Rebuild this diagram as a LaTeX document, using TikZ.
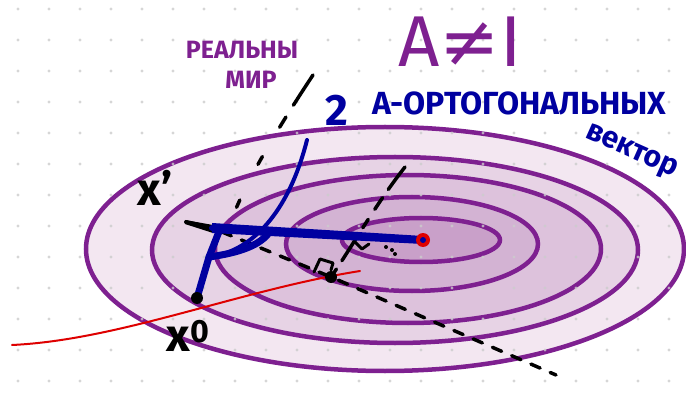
\documentclass[tikz,border=0pt]{standalone}
\usepackage{fontspec}
\setmainfont{Fira Sans}
\newfontfamily\symfont{DejaVu Sans}
\usepackage{xcolor}
\usetikzlibrary{calc}

\definecolor{lilac}{RGB}{126,32,144}
\definecolor{ink}{RGB}{0,0,160}
\definecolor{redpen}{RGB}{222,0,0}
\definecolor{ringA}{RGB}{243,231,241}
\definecolor{ringB}{RGB}{231,211,229}
\definecolor{ringC}{RGB}{221,194,220}
\definecolor{ringD}{RGB}{211,179,211}
\definecolor{ringE}{RGB}{201,160,201}

\begin{document}
\begin{tikzpicture}[x=1pt, y=-1pt,
    ring/.style={draw=lilac, line width=4.5pt},
    pen/.style={ink, line width=7pt, line cap=round, line join=round},
    marker/.style={black, line width=4pt, line cap=round, line join=round},
    dashpen/.style={black, line width=3.5pt, line cap=round, dash pattern=on 10pt off 11pt},
    lbl/.style={inner sep=0pt, font=\bfseries}]
    % 0. Холст и сетка
    \useasboundingbox (0,0) rectangle (686,393);
    \clip (0,0) rectangle (686,393);
    \fill[white] (0,0) rectangle (686,393);

    % 1. Линии уровня (эллипсы)
    \draw[ring, fill=ringA] (385,249) ellipse [x radius=299, y radius=122];
    \draw[ring, fill=ringB] (395,250) ellipse [x radius=243, y radius=93];
    \draw[ring, fill=ringC] (408,249) ellipse [x radius=193, y radius=74];
    \draw[ring, fill=ringD] (412,244) ellipse [x radius=126, y radius=47];
    \draw[ring, fill=ringE] (421,240) ellipse [x radius=79, y radius=22];

    % точки сетки
    \foreach \i in {0,...,21}
        \foreach \j in {0,...,12}
            \fill[gray!40, opacity=0.8] ({18+31*\i},{9+31*\j}) circle (1.6pt);

    % 2. Точки
    \coordinate (xmin) at (423,240);
    \coordinate (xzero) at (197,298);
    \coordinate (xone) at (212,228);
    \coordinate (bend) at (209,257);
    \coordinate (mid) at (331,277);

    % 3. Красная кривая
    \draw[redpen, line width=2pt, line cap=round]
        (12,345) .. controls (120,340) and (240,290) .. (360,271);

    % 4. Пунктирные линии
    \draw[dashpen] (222,232) -- (mid) -- (556,375);
    \draw[dashpen, dash pattern=on 28pt off 10pt on 14pt off 12pt on 10pt off 11pt]
        (405,167) .. controls (375,205) and (350,250) .. (mid);
    \draw[dashpen, dash pattern=on 36pt off 14pt on 12pt off 34pt on 9pt off 40pt on 8pt off 40pt]
        (313,75) .. controls (270,140) and (235,200) .. (225,240);

    % прямые углы
    \draw[marker, line width=3pt] (314,272) -- (320,259) -- (333,263) -- (331,270);
    \draw[marker, line width=3pt] (354,241) -- (362,249) -- (369,244);
    \fill (386,247) circle (2pt) (392,250) circle (2pt) (395,254) circle (2pt);

    % 5. Синие направления
    \fill (185,220) -- (213,225) -- (213,233) -- (185,224) -- cycle;
    \draw[marker, line width=4pt] (186,222) -- (xone);
    \draw[pen, line width=4pt] (bend) .. controls (250,252) and (288,215) .. (307,140);
    \fill[ink] (212,223) -- (423,236) -- (423,244) -- (212,233) -- cycle;
    \draw[pen, line width=6pt] (xone) -- (xmin);
    \draw[pen] (xzero) -- (bend) -- (220,229);
    \draw[pen] (bend) .. controls (238,253) and (258,246) .. (268,234);

    % 6. Маркеры точек
    \fill[redpen] (xmin) circle (7pt);
    \fill[ink] (xmin) circle (3pt);
    \fill (mid) circle (6pt);
    \fill (xzero) circle (6pt);

    % 7. Подписи
    \node[lbl, text=lilac, font=\fontsize{72}{72}\selectfont] (aneq) at (460,42) {A{\symfont ≠}I};
    \node[lbl, text=lilac, font=\bfseries\fontsize{25}{25}\selectfont] (real) at (242,50) {РЕАЛЬНЫ};
    \node[lbl, text=lilac, font=\bfseries\fontsize{25}{25}\selectfont] (world) at (251,80) {МИР};
    \node[lbl, text=ink, font=\bfseries\fontsize{44}{44}\selectfont] (two) at (337,110) {2};
    \node[lbl, text=ink, font=\bfseries\fontsize{32}{32}\selectfont, anchor=west] (orth) at (372,103) {А-ОРТОГОНАЛЬНЫХ};
    \node[lbl, text=ink, font=\bfseries\fontsize{30}{30}\selectfont, anchor=north west, rotate=-24] (vec) at (591,122) {вектор};
    \node[lbl, font=\bfseries\fontsize{46}{46}\selectfont] (xonelbl) at (155,188) {x'};
    \node[lbl, font=\bfseries\fontsize{46}{46}\selectfont] (xzerolbl) at (188,336) {x\textsuperscript{0}};
\end{tikzpicture}
\end{document}
